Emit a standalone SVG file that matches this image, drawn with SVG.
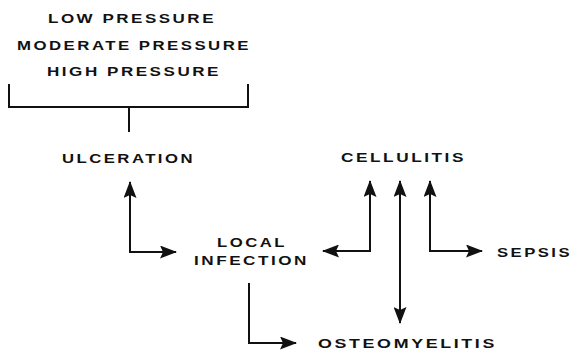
<svg xmlns="http://www.w3.org/2000/svg" width="575" height="351" viewBox="0 0 575 351">
<style>
  text { font-family: "Liberation Sans", Arial, sans-serif; font-size: 13.5px; font-weight: bold; fill: #111; letter-spacing: 2px; }
  .ln { fill: none; stroke: #111; stroke-width: 2; }
</style>
<defs>
  <marker id="ah" markerUnits="userSpaceOnUse" markerWidth="17" markerHeight="13" refX="16" refY="6.5" orient="auto-start-reverse" viewBox="0 0 17 13">
    <path d="M0,0 L17,6.5 L0,13 L3,6.5 z" fill="#111"/>
  </marker>
</defs>
<rect width="575" height="351" fill="#fff"/>
<g id="pressures">
  <text x="48" y="23" textLength="168" lengthAdjust="spacingAndGlyphs">LOW PRESSURE</text>
  <text x="17" y="50" textLength="234" lengthAdjust="spacingAndGlyphs">MODERATE PRESSURE</text>
  <text x="47" y="76" textLength="174" lengthAdjust="spacingAndGlyphs">HIGH PRESSURE</text>
  <path class="ln" d="M9,84 V107 H248 V84"/>
</g>
<g id="ulceration"><text x="62" y="163" textLength="133" lengthAdjust="spacingAndGlyphs">ULCERATION</text></g>
<g id="cellulitis"><text x="341" y="162" textLength="125" lengthAdjust="spacingAndGlyphs">CELLULITIS</text></g>
<g id="local-infection">
  <text x="217" y="247" textLength="70" lengthAdjust="spacingAndGlyphs">LOCAL</text>
  <text x="194" y="265" textLength="115" lengthAdjust="spacingAndGlyphs">INFECTION</text>
</g>
<g id="sepsis"><text x="497" y="257" textLength="75" lengthAdjust="spacingAndGlyphs">SEPSIS</text></g>
<g id="osteomyelitis"><text x="318" y="348" textLength="179" lengthAdjust="spacingAndGlyphs">OSTEOMYELITIS</text></g>
<g id="connectors">
  <path class="ln" d="M129,107 V132"/>
  <path class="ln" d="M130,182 V252 H176" marker-start="url(#ah)" marker-end="url(#ah)"/>
  <path class="ln" d="M370,181 V251 H323" marker-start="url(#ah)" marker-end="url(#ah)"/>
  <path class="ln" d="M400,181 V323" marker-start="url(#ah)" marker-end="url(#ah)"/>
  <path class="ln" d="M430,181 V251 H482" marker-start="url(#ah)" marker-end="url(#ah)"/>
  <path class="ln" d="M249,283 V343 H296" marker-end="url(#ah)"/>
</g>
</svg>
